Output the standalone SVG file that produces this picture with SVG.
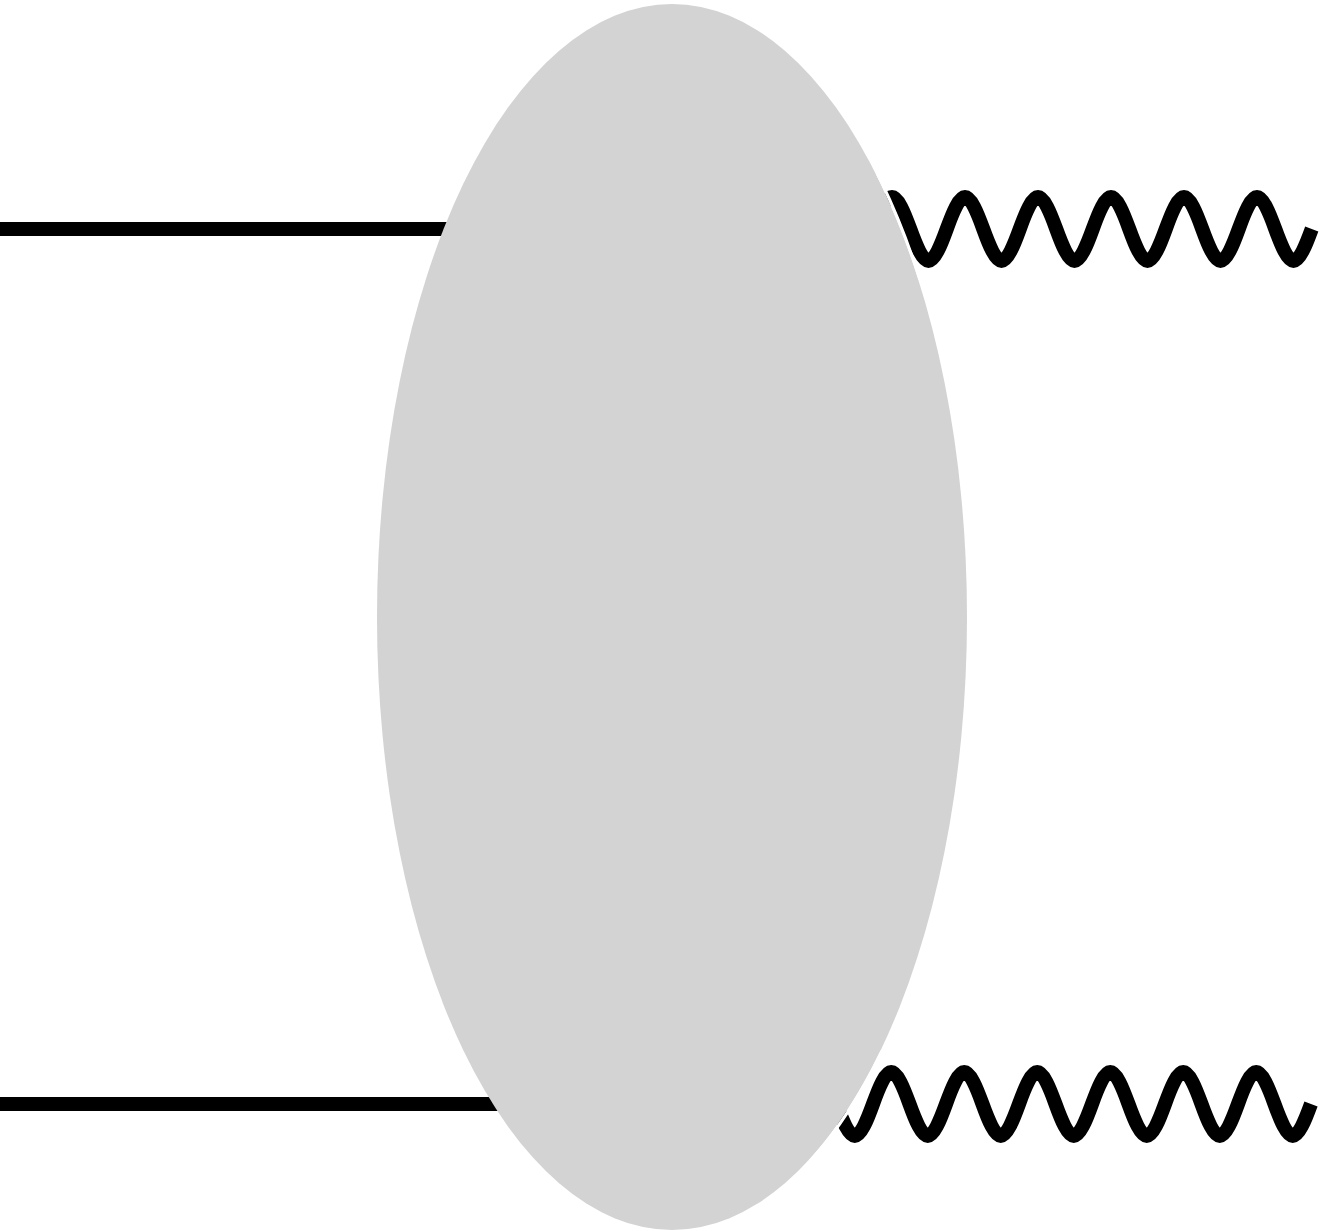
<svg xmlns="http://www.w3.org/2000/svg" width="1321" height="1231" viewBox="0 0 1321 1231">
  <style>
    .line { stroke: #000; stroke-width: 14; fill: none; stroke-linecap: butt; }
    .blob { fill: #d3d3d3; stroke: none; }
    .rim { fill: none; stroke: #fff; stroke-width: 3; }
  </style>
  <defs>
    <!-- areas where the wavy lines meet the blob edge -->
    <clipPath id="wave-zone">
      <rect x="840" y="175" width="120" height="105"/>
      <rect x="780" y="1050" width="120" height="110"/>
    </clipPath>
  </defs>
  <rect width="1321" height="1231" fill="#fff"/>
  <g id="connectors">
    <!-- straight fermion lines entering the blob -->
    <line class="line" x1="0" y1="229" x2="470" y2="229"/>
    <line class="line" x1="0" y1="1104" x2="520" y2="1104"/>
    <!-- upper wavy line: period 73px, amplitude 32px, begins inside the blob -->
    <path id="photon-top" class="line" d="M 819,197
      c 5.95,0 12.30,15.61 18.25,32 c 5.95,16.39 12.30,32 18.25,32 c 5.95,0 12.30,-15.61 18.25,-32 c 5.95,-16.39 12.30,-32 18.25,-32
      c 5.95,0 12.30,15.61 18.25,32 c 5.95,16.39 12.30,32 18.25,32 c 5.95,0 12.30,-15.61 18.25,-32 c 5.95,-16.39 12.30,-32 18.25,-32
      c 5.95,0 12.30,15.61 18.25,32 c 5.95,16.39 12.30,32 18.25,32 c 5.95,0 12.30,-15.61 18.25,-32 c 5.95,-16.39 12.30,-32 18.25,-32
      c 5.95,0 12.30,15.61 18.25,32 c 5.95,16.39 12.30,32 18.25,32 c 5.95,0 12.30,-15.61 18.25,-32 c 5.95,-16.39 12.30,-32 18.25,-32
      c 5.95,0 12.30,15.61 18.25,32 c 5.95,16.39 12.30,32 18.25,32 c 5.95,0 12.30,-15.61 18.25,-32 c 5.95,-16.39 12.30,-32 18.25,-32
      c 5.95,0 12.30,15.61 18.25,32 c 5.95,16.39 12.30,32 18.25,32 c 5.95,0 12.30,-15.61 18.25,-32 c 5.95,-16.39 12.30,-32 18.25,-32
      c 5.95,0 12.30,15.61 18.25,32 c 5.95,16.39 12.30,32 18.25,32 c 5.95,0 12.30,-15.61 18.25,-32"/>
    <!-- lower wavy line: same wave, begins inside the blob on the midline -->
    <path id="photon-bottom" class="line" d="M 763.5,1104
      c 5.95,16.39 12.30,32 18.25,32 c 5.95,0 12.30,-15.61 18.25,-32 c 5.95,-16.39 12.30,-32 18.25,-32 c 5.95,0 12.30,15.61 18.25,32
      c 5.95,16.39 12.30,32 18.25,32 c 5.95,0 12.30,-15.61 18.25,-32 c 5.95,-16.39 12.30,-32 18.25,-32 c 5.95,0 12.30,15.61 18.25,32
      c 5.95,16.39 12.30,32 18.25,32 c 5.95,0 12.30,-15.61 18.25,-32 c 5.95,-16.39 12.30,-32 18.25,-32 c 5.95,0 12.30,15.61 18.25,32
      c 5.95,16.39 12.30,32 18.25,32 c 5.95,0 12.30,-15.61 18.25,-32 c 5.95,-16.39 12.30,-32 18.25,-32 c 5.95,0 12.30,15.61 18.25,32
      c 5.95,16.39 12.30,32 18.25,32 c 5.95,0 12.30,-15.61 18.25,-32 c 5.95,-16.39 12.30,-32 18.25,-32 c 5.95,0 12.30,15.61 18.25,32
      c 5.95,16.39 12.30,32 18.25,32 c 5.95,0 12.30,-15.61 18.25,-32 c 5.95,-16.39 12.30,-32 18.25,-32 c 5.95,0 12.30,15.61 18.25,32
      c 5.95,16.39 12.30,32 18.25,32 c 5.95,0 12.30,-15.61 18.25,-32 c 5.95,-16.39 12.30,-32 18.25,-32 c 5.95,0 12.30,15.61 18.25,32
      c 5.95,16.39 12.30,32 18.25,32 c 5.95,0 12.30,-15.61 18.25,-32"/>
  </g>
  <g id="blob">
    <ellipse class="blob" cx="672" cy="617" rx="295" ry="613"/>
    <!-- thin white rim where the wavy lines leave the blob -->
    <ellipse class="rim" cx="672" cy="617" rx="296.5" ry="614.5" clip-path="url(#wave-zone)"/>
  </g>
</svg>
